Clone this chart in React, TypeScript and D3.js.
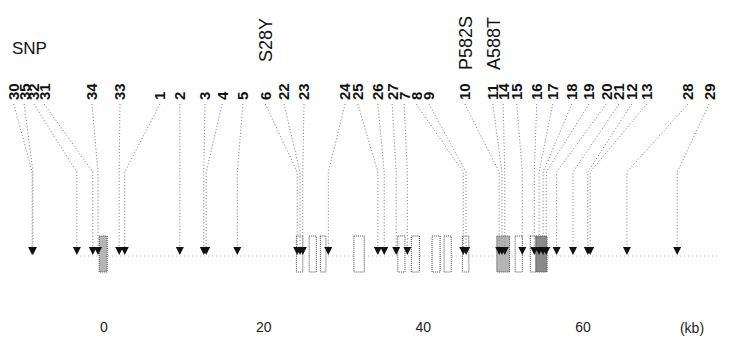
import React from "react";
import * as d3 from "d3";

// SNP identifiers, their label anchor (kb, on the same scale) and genomic position (kb)
const snpIds = ["30","35","32","31","34","33","1","2","3","4","5","6","22","23","24","25","26","27","7","8","9","10","11","14","15","16","17","18","19","20","21","12","13","28","29"];
const snpLabelKb = [-11.3,-10.0,-8.8,-7.5,-1.5,2.0,7.0,9.5,12.65,14.8,17.4,20.2,22.55,25.05,30.2,31.8,34.3,36.1,37.6,39.1,40.7,45.2,48.7,50.0,51.7,54.2,56.2,58.6,60.75,62.9,64.5,66.1,68.0,73.15,75.8];
const snpPosKb = [-9.0,-8.9,-3.4,-1.4,-0.75,1.9,2.6,9.5,12.5,12.8,16.7,24.2,24.55,24.9,28.1,34.3,35.1,36.6,38.0,45.0,45.35,49.5,49.85,50.2,52.4,53.9,54.5,55.0,55.4,56.7,58.75,60.6,60.9,65.5,71.8];

// Amino-acid changes and the SNP label they sit above
const mutNames = ["S28Y","P582S","A588T"];
const mutSnp = ["6","10","11"];

// Exons: start kb, end kb, shade (0 = open, 1 = light, 2 = dark)
const exonStart = [-0.6,24.1,25.7,27.1,31.3,36.8,38.5,41.1,42.6,44.9,49.2,51.5,53.4,54.1];
const exonEnd = [0.4,24.9,26.6,27.8,32.6,37.7,39.5,42.1,43.5,45.7,50.8,52.4,54.1,55.5];
const exonShade = [1,0,0,0,0,0,0,0,0,0,1,0,0,2];

const axisTicks = [0,20,40,60];

export default function App() {
  const x = d3.scaleLinear().domain([0, 60]).range([104, 583]);
  const labelY = 100;
  const lineTop = 104;
  const bendY = 172;
  const arrowTop = 247;
  const arrowTip = 255;
  const exonTop = 236;
  const exonBot = 272;
  const font = "'Liberation Sans', Arial, sans-serif";
  const line = d3.line<[number, number]>();

  return (
    <svg width={732} height={340} style={{ position: "absolute", left: 0, top: 0, background: "#fff" }} fontFamily={font}>
      <rect width={732} height={340} fill="#fff" />
      <text x={12} y={54} fontSize={17} fill="#111">SNP</text>

      {/* baseline */}
      <line x1={x(-3)} x2={x(77)} y1={256} y2={256} stroke="#aaa" strokeWidth={0.8} strokeDasharray="1,3" />

      {/* exons */}
      {exonStart.map((s, i) => (
        <rect key={"ex" + i}
          x={x(s)} y={exonTop} width={x(exonEnd[i]) - x(s)} height={exonBot - exonTop}
          fill={exonShade[i] === 2 ? "#8a8a8a" : exonShade[i] === 1 ? "#b5b5b5" : "#fff"}
          stroke="#444" strokeWidth={1} strokeDasharray="1,1" />
      ))}

      {/* connector lines */}
      {snpIds.map((id, i) => {
        const lx = x(snpLabelKb[i]);
        const px = x(snpPosKb[i]);
        const d = line([[lx, lineTop], [px, bendY], [px, arrowTop]]) || "";
        return <path key={"ln" + id} d={d} fill="none" stroke="#888" strokeWidth={1} strokeDasharray="1.2,2" />;
      })}

      {/* arrows */}
      {snpIds.map((id, i) => {
        const px = x(snpPosKb[i]);
        return <path key={"ar" + id} d={`M${px - 4},${arrowTop}L${px + 4},${arrowTop}L${px},${arrowTip}Z`} fill="#111" />;
      })}

      {/* SNP labels */}
      {snpIds.map((id, i) => {
        const lx = x(snpLabelKb[i]) + 5.4;
        return (
          <text key={"lb" + id} transform={`translate(${lx},${labelY}) rotate(-90)`} fontSize={15} fontWeight="bold" fill="#111">{id}</text>
        );
      })}

      {/* mutation labels */}
      {mutNames.map((m, i) => {
        const idx = snpIds.indexOf(mutSnp[i]);
        const lx = x(snpLabelKb[idx]) + 6.8;
        const y0 = i === 0 ? 62 : 70;
        return (
          <text key={"mu" + m} transform={`translate(${lx},${y0}) rotate(-90)`} fontSize={18} fill="#111">{m}</text>
        );
      })}

      {/* axis labels */}
      {axisTicks.map(t => (
        <text key={"tk" + t} x={x(t)} y={332} fontSize={14} textAnchor="middle" fill="#222">{t}</text>
      ))}
      <text x={692} y={333} fontSize={14} textAnchor="middle" fill="#222">(kb)</text>
    </svg>
  );
}
